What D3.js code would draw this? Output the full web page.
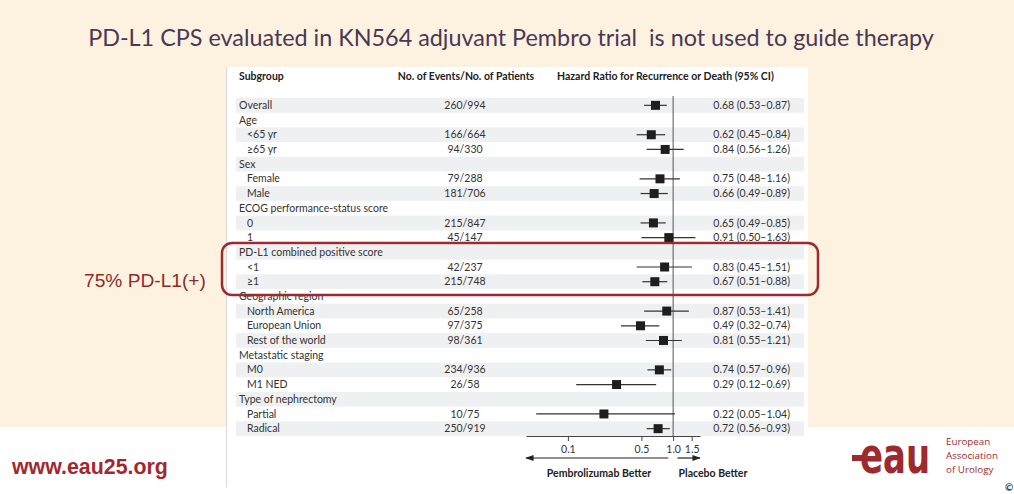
<!DOCTYPE html>
<html>
<head>
<meta charset="utf-8">
<script src="https://cdn.jsdelivr.net/npm/d3@7"></script>
<style>
  body { margin: 0; background: #fff; }
  svg { display: block; font-family: Lato, "Open Sans", sans-serif; }
</style>
</head>
<body>
<div id="chart"></div>
<script>
// KN564 forest plot, hazard ratio by subgroup

const width = 1014, height = 494;

// one entry per row, headings have no values
const subgroups = ["Overall", "Age", "<65 yr", "≥65 yr", "Sex", "Female", "Male",
  "ECOG performance-status score", "0", "1", "PD-L1 combined positive score", "<1", "≥1",
  "Geographic region", "North America", "European Union", "Rest of the world",
  "Metastatic staging", "M0", "M1 NED", "Type of nephrectomy", "Partial", "Radical"];
const isChild = [0, 0, 1, 1, 0, 1, 1, 0, 1, 1, 0, 1, 1, 0, 1, 1, 1, 0, 1, 1, 0, 1, 1];
const events = ["260/994", null, "166/664", "94/330", null, "79/288", "181/706", null,
  "215/847", "45/147", null, "42/237", "215/748", null, "65/258", "97/375", "98/361",
  null, "234/936", "26/58", null, "10/75", "250/919"];
const hr = [0.68, null, 0.62, 0.84, null, 0.75, 0.66, null, 0.65, 0.91, null, 0.83, 0.67,
  null, 0.87, 0.49, 0.81, null, 0.74, 0.29, null, 0.22, 0.72];
const lower = [0.53, null, 0.45, 0.56, null, 0.48, 0.49, null, 0.49, 0.50, null, 0.45, 0.51,
  null, 0.53, 0.32, 0.55, null, 0.57, 0.12, null, 0.05, 0.56];
const upper = [0.87, null, 0.84, 1.26, null, 1.16, 0.89, null, 0.85, 1.63, null, 1.51, 0.88,
  null, 1.41, 0.74, 1.21, null, 0.96, 0.69, null, 1.04, 0.93];
const axisTicks = [0.1, 0.5, 1.0, 1.5];

const red = "#9c2a2e";
const f2 = d3.format(".2f");

const svg = d3.select("#chart")
  .append("svg")
  .attr("width", width)
  .attr("height", height)
  .attr("viewBox", [0, 0, width, height]);

// slide background
svg.append("rect").attr("width", width).attr("height", 427).attr("fill", "#fdf2e0");

// helper: scale font so text fills a given width
function fitWidth(sel, w) {
  const len = sel.node().getComputedTextLength();
  const fs = parseFloat(sel.attr("font-size"));
  sel.attr("font-size", fs * w / len);
}

const title = svg.append("text")
  .attr("x", 511).attr("y", 46)
  .attr("text-anchor", "middle")
  .attr("font-family", "Lato, sans-serif")
  .attr("font-size", 22)
  .attr("fill", "#4a3854")
  .style("white-space", "pre")
  .text("PD-L1 CPS evaluated in KN564 adjuvant Pembro trial  is not used to guide therapy");
fitWidth(title, 846);

// white panel with the NEJM figure
svg.append("rect")
  .attr("x", 226).attr("y", 67)
  .attr("width", 582).attr("height", 420)
  .attr("fill", "#fff");
svg.append("line")
  .attr("x1", 226.5).attr("x2", 226.5)
  .attr("y1", 67).attr("y2", 487)
  .attr("stroke", "#d9d9d9");

const x = d3.scaleLog().domain([0.04, 1.8]).range([526, 700]);
const y = d3.scaleBand().domain(d3.range(subgroups.length)).range([98, 436]);
const bw = y.bandwidth();

// striped rows
svg.append("g")
  .selectAll("rect")
  .data(d3.range(subgroups.length).filter(i => i % 2 === 0))
  .join("rect")
  .attr("x", 236).attr("width", 568)
  .attr("y", i => y(i)).attr("height", bw)
  .attr("fill", "#eff0f2");

// headers
const header = svg.append("g")
  .attr("font-weight", "bold")
  .attr("font-size", 10.5)
  .attr("fill", "#222");
header.append("text").attr("x", 239).attr("y", 80).text("Subgroup");
header.append("text").attr("x", 466).attr("y", 80).attr("text-anchor", "middle")
  .text("No. of Events/No. of Patients");
header.append("text").attr("x", 557).attr("y", 80)
  .text("Hazard Ratio for Recurrence or Death (95% CI)");

// rows text
const rows = svg.append("g")
  .attr("font-size", 10.5)
  .attr("fill", "#333")
  .selectAll("g")
  .data(d3.range(subgroups.length))
  .join("g")
  .attr("transform", i => `translate(0,${y(i) + bw / 2 + 3.6})`);

rows.append("text")
  .attr("x", i => isChild[i] ? 247 : 239)
  .text(i => subgroups[i]);

rows.filter(i => events[i])
  .append("text")
  .attr("x", 465)
  .attr("text-anchor", "middle")
  .text(i => events[i]);

rows.filter(i => hr[i] != null)
  .append("text")
  .attr("x", 790)
  .attr("text-anchor", "end")
  .text(i => `${f2(hr[i])} (${f2(lower[i])}–${f2(upper[i])})`);

// reference line at HR 1.0
svg.append("line")
  .attr("x1", x(1)).attr("x2", x(1))
  .attr("y1", 96).attr("y2", 436)
  .attr("stroke", "#555").attr("stroke-width", 1);

const est = d3.range(subgroups.length).filter(i => hr[i] != null);

svg.append("g")
  .selectAll("line")
  .data(est)
  .join("line")
  .attr("x1", i => x(lower[i])).attr("x2", i => x(upper[i]))
  .attr("y1", i => y(i) + bw / 2).attr("y2", i => y(i) + bw / 2)
  .attr("stroke", "#333").attr("stroke-width", 1.2);

const sq = 9;
svg.append("g")
  .selectAll("rect")
  .data(est)
  .join("rect")
  .attr("x", i => x(hr[i]) - sq / 2)
  .attr("y", i => y(i) + bw / 2 - sq / 2)
  .attr("width", sq).attr("height", sq)
  .attr("fill", "#1e1e1e");

// x axis
const axis = svg.append("g")
  .attr("transform", "translate(0,436)")
  .call(d3.axisBottom(x).tickValues(axisTicks).tickFormat(d3.format(".1f")).tickSize(5).tickSizeOuter(0));
axis.select(".domain").attr("stroke", "#444");
axis.selectAll(".tick line").attr("stroke", "#444");
axis.selectAll(".tick text")
  .attr("font-family", "Lato, sans-serif")
  .attr("font-size", 10.5)
  .attr("fill", "#333")
  .attr("dy", "0.9em");

// direction arrows
svg.append("defs").append("marker")
  .attr("id", "arrow")
  .attr("viewBox", "0 0 10 10")
  .attr("refX", 9).attr("refY", 5)
  .attr("markerWidth", 7).attr("markerHeight", 7)
  .attr("orient", "auto-start-reverse")
  .append("path").attr("d", "M0,1.5L10,5L0,8.5Z").attr("fill", "#222");

svg.append("line")
  .attr("x1", x(0.9)).attr("x2", x.range()[0])
  .attr("y1", 458).attr("y2", 458)
  .attr("stroke", "#222").attr("stroke-width", 1.2)
  .attr("marker-end", "url(#arrow)");
svg.append("line")
  .attr("x1", x(1.1)).attr("x2", x.range()[1])
  .attr("y1", 458).attr("y2", 458)
  .attr("stroke", "#222").attr("stroke-width", 1.2)
  .attr("marker-end", "url(#arrow)");

const dirs = svg.append("g")
  .attr("font-weight", "bold").attr("font-size", 10.5).attr("fill", "#222")
  .attr("text-anchor", "middle");
dirs.append("text").attr("x", 599).attr("y", 477).text("Pembrolizumab Better");
dirs.append("text").attr("x", 713).attr("y", 477).text("Placebo Better");

// highlight box around the PD-L1 rows
svg.append("rect")
  .attr("x", 222).attr("y", y(10) - 2)
  .attr("width", 596).attr("height", y(12) + bw + 6 - (y(10) - 2))
  .attr("rx", 10)
  .attr("fill", "none")
  .attr("stroke", red).attr("stroke-width", 2.5);

const pct = svg.append("text")
  .attr("x", 84).attr("y", 287)
  .attr("font-family", "'Liberation Sans', Arial, sans-serif")
  .attr("font-size", 18)
  .attr("fill", "#8e2b2b")
  .text("75% PD-L1(+)");
fitWidth(pct, 122);

// footer
const url = svg.append("text")
  .attr("x", 12).attr("y", 474)
  .attr("font-family", "'Liberation Sans', Arial, sans-serif")
  .attr("font-weight", "bold")
  .attr("font-size", 19)
  .attr("fill", "#a3282e")
  .text("www.eau25.org");
fitWidth(url, 156);

// EAU logo
svg.append("rect")
  .attr("x", 852).attr("y", 455).attr("width", 14).attr("height", 6)
  .attr("fill", red);
svg.append("text")
  .attr("transform", "translate(860,473) scale(0.68,1)")
  .attr("font-family", "'DejaVu Sans', sans-serif")
  .attr("font-weight", "bold")
  .attr("font-size", 50)
  .attr("fill", red)
  .text("eau");

const eauText = svg.append("g")
  .attr("font-family", "'Open Sans', sans-serif")
  .attr("font-size", 9.8)
  .attr("fill", red);
["European", "Association", "of Urology"].forEach((t, i) => {
  eauText.append("text").attr("x", 946).attr("y", 445 + i * 14).text(t);
});
svg.append("text")
  .attr("x", 1005).attr("y", 491)
  .attr("font-size", 10).attr("font-weight", "bold")
  .attr("fill", "#333")
  .text("©");
</script>
</body>
</html>
